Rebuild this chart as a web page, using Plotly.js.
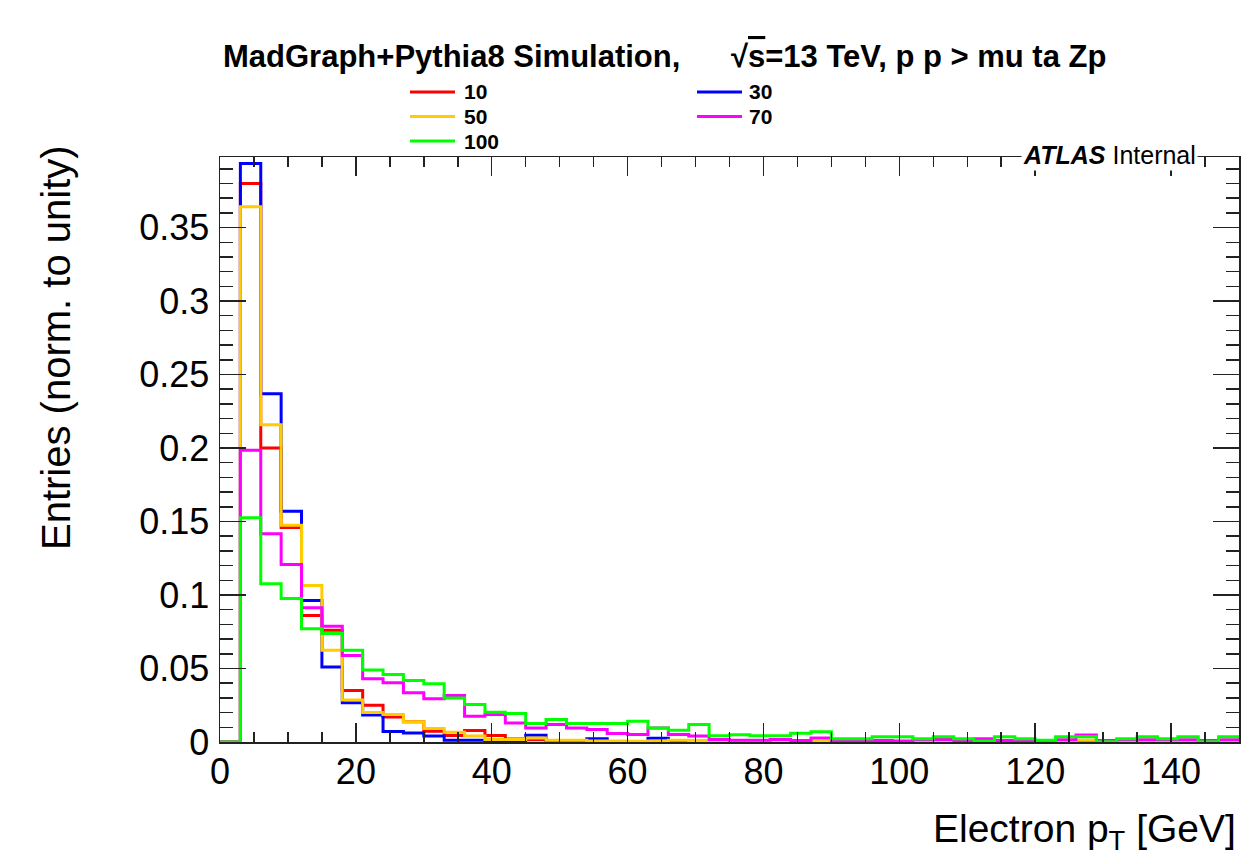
<!DOCTYPE html>
<html><head><meta charset="utf-8">
<script src="https://cdn.plot.ly/plotly-3.0.1.min.js"></script>
<style>html,body{margin:0;padding:0;background:#fff;} #chart{width:1252px;height:864px;}</style>
</head><body><div id="chart"></div>
<script>
// Histogram binning (GeV)
const binLow = 0;
const binWidth = 3;
const nBins = 50;

// Series names and colours
const seriesNames = ['10', '30', '50', '70', '100'];
const seriesColors = ['#ff0000', '#0000ff', '#ffcc00', '#ff00ff', '#00ff00'];

// Normalised bin contents (one value per bin)
const h10 = [0, 0.380, 0.200, 0.146, 0.086, 0.076, 0.035, 0.025, 0.017, 0.0137,
  0.0073, 0.0044, 0.0078, 0.0044, 0.0020, 0.0015, 0.0008, 0.0006, 0.0005, 0.0004,
  0.0004, 0.0003, 0.0003, 0.0003, 0.0003, 0.0002, 0.0003, 0.0002, 0.0002, 0.0002,
  0.0002, 0.0002, 0.0002, 0.0002, 0.0002, 0.0002, 0.0002, 0.0002, 0.0002, 0.0002,
  0.0002, 0.0002, 0.0002, 0.0002, 0.0002, 0.0002, 0.0002, 0.0002, 0.0002, 0.0002];
const h30 = [0, 0.3935, 0.237, 0.157, 0.0963, 0.051, 0.0267, 0.0183, 0.0072, 0.0062,
  0.0040, 0.0012, 0.0012, 0.0006, 0.0006, 0.0046, 0.0005, 0.0004, 0.0022, 0.0004,
  0.0003, 0.0025, 0.0004, 0.0003, 0.0004, 0.0003, 0.0004, 0.0003, 0.0003, 0.0003,
  0.0005, 0.0003, 0.0003, 0.0004, 0.0003, 0.0005, 0.0005, 0.0003, 0.0003, 0.0003,
  0.0003, 0.0003, 0.0003, 0.0003, 0.0003, 0.0003, 0.0003, 0.0003, 0.0003, 0.0003];
const h50 = [0, 0.3641, 0.2158, 0.1475, 0.1065, 0.0625, 0.0285, 0.020, 0.0187, 0.0137,
  0.0092, 0.0067, 0.0040, 0.0017, 0.0017, 0.0028, 0.0012, 0.0012, 0.0006, 0.0006,
  0.0005, 0.0006, 0.0012, 0.0010, 0.0008, 0.0010, 0.0006, 0.0005, 0.0005, 0.0005,
  0.0004, 0.0004, 0.0005, 0.0004, 0.0004, 0.0004, 0.0003, 0.0004, 0.0004, 0.0004,
  0.0004, 0.0004, 0.0012, 0.0004, 0.0003, 0.0003, 0.0003, 0.0003, 0.0003, 0.0003];
const h70 = [0, 0.1985, 0.1416, 0.1207, 0.0913, 0.0788, 0.0588, 0.043, 0.0403, 0.0335,
  0.0294, 0.0316, 0.0176, 0.0187, 0.013, 0.0096, 0.0119, 0.0096, 0.0085, 0.0058,
  0.0051, 0.0096, 0.0051, 0.0040, 0.0017, 0.0012, 0.0012, 0.0017, 0.0010, 0.0028,
  0.0010, 0.0006, 0.0010, 0.0006, 0.0015, 0.0017, 0.0010, 0.0022, 0.0010, 0.0008,
  0.0008, 0.0015, 0.0048, 0.0010, 0.0015, 0.0015, 0.0015, 0.0015, 0.0010, 0.0015];
const h100 = [0, 0.1525, 0.1076, 0.0976, 0.077, 0.0738, 0.0625, 0.0489, 0.0459, 0.0418,
  0.0396, 0.030, 0.0255, 0.0203, 0.0194, 0.0126, 0.0153, 0.0126, 0.0126, 0.0126,
  0.0142, 0.0096, 0.0080, 0.0119, 0.0042, 0.0050, 0.0042, 0.0042, 0.0060, 0.0070,
  0.0022, 0.0022, 0.0035, 0.0035, 0.0022, 0.0035, 0.0022, 0.0005, 0.0035, 0.0022,
  0.0012, 0.0035, 0.0035, 0.0002, 0.0022, 0.0035, 0.0022, 0.0035, 0.0002, 0.0035];

// Text
const headerLeft = '<b>MadGraph+Pythia8 Simulation,</b>';
const headerRight = '<b>\u221A<span style="text-decoration:overline">s</span>=13 TeV, p p &gt; mu ta Zp</b>';
const xTitle = 'Electron p<sub>T</sub> [GeV]';
const yTitle = 'Entries (norm. to unity)';
const xTickVals = [0, 20, 40, 60, 80, 100, 120, 140];
const yTickVals = [0, 0.05, 0.1, 0.15, 0.2, 0.25, 0.3, 0.35];

const seriesData = [h10, h30, h50, h70, h100];

// Bin edges from binning definition
const edges = [];
for (let i = 0; i <= nBins; i++) edges.push(binLow + i * binWidth);

const FONT = 'Liberation Sans, Arial, Helvetica, sans-serif';

const traces = seriesData.map((vals, s) => ({
  type: 'scatter',
  mode: 'lines',
  name: seriesNames[s],
  x: edges,
  y: vals.concat([vals[vals.length - 1]]),
  line: {shape: 'hv', color: seriesColors[s], width: 3},
  showlegend: false,
  hoverinfo: 'x+y+name'
}));

// plot geometry in pixels (for placing header/legend text)
const W = 1252, H = 864;
const M = {l: 220, r: 13, t: 157, b: 122};
const pw = W - M.l - M.r, ph = H - M.t - M.b;
const px = v => (v - M.l) / pw;
const py = v => (H - M.b - v) / ph;

// legend layout: two columns, rows filled left to right
const legendCols = [[410, 455, 463], [697, 742, 748]];
const legendRows = [92, 116.5, 141];

const annotations = [];
const shapes = [];
seriesNames.forEach((nm, i) => {
  const col = legendCols[i % 2];
  const row = legendRows[Math.floor(i / 2)];
  shapes.push({type: 'line', xref: 'paper', yref: 'paper',
    x0: px(col[0]), x1: px(col[1]), y0: py(row), y1: py(row),
    line: {color: seriesColors[i], width: 3}});
  annotations.push({xref: 'paper', yref: 'paper', x: px(col[2]), y: py(row),
    xanchor: 'left', yanchor: 'middle', showarrow: false, borderpad: 0,
    text: '<b>' + nm + '</b>', font: {family: FONT, size: 21, color: '#000'}});
});

annotations.push({xref: 'paper', yref: 'paper', x: px(221), y: py(57),
  xanchor: 'left', yanchor: 'middle', showarrow: false, text: headerLeft,
  font: {family: FONT, size: 31, color: '#000'}});
annotations.push({xref: 'paper', yref: 'paper', x: px(729), y: py(57),
  xanchor: 'left', yanchor: 'middle', showarrow: false, text: headerRight,
  font: {family: FONT, size: 31, color: '#000'}});
annotations.push({xref: 'paper', yref: 'paper', x: px(1198), y: py(155),
  xanchor: 'right', yanchor: 'middle', showarrow: false,
  text: '<b><i>ATLAS</i></b> Internal', bgcolor: '#ffffff', borderpad: 1,
  font: {family: FONT, size: 25, color: '#000'}});
annotations.push({xref: 'paper', yref: 'paper', x: px(1238), y: py(831),
  xanchor: 'right', yanchor: 'middle', showarrow: false, text: xTitle,
  font: {family: FONT, size: 39, color: '#000'}});
annotations.push({xref: 'paper', yref: 'paper', x: px(56), y: py(348),
  xanchor: 'center', yanchor: 'middle', showarrow: false, text: yTitle, textangle: -90,
  font: {family: FONT, size: 40, color: '#000'}});

const axisCommon = {
  ticks: 'inside', tickwidth: 1.5, tickcolor: '#222',
  showline: true, linecolor: '#222', linewidth: 1.5, mirror: 'allticks',
  showgrid: false, zeroline: false,
  tickfont: {family: FONT, size: 36, color: '#000'}
};

const layout = {
  width: W, height: H,
  margin: M,
  paper_bgcolor: '#fff', plot_bgcolor: '#fff',
  showlegend: false,
  xaxis: Object.assign({}, axisCommon, {
    range: [0, 150], tickvals: xTickVals, ticklen: 19, ticklabelstandoff: -3,
    minor: {dtick: 5, tick0: 0, ticks: 'inside', ticklen: 10, tickwidth: 1.5, tickcolor: '#222', showgrid: false}
  }),
  yaxis: Object.assign({}, axisCommon, {
    range: [0, 0.398], tickvals: yTickVals, ticklen: 26, ticklabelstandoff: 2,
    minor: {dtick: 0.01, tick0: 0, ticks: 'inside', ticklen: 13, tickwidth: 1.5, tickcolor: '#222', showgrid: false}
  }),
  annotations: annotations,
  shapes: shapes
};

Plotly.newPlot('chart', traces, layout, {displayModeBar: false, staticPlot: true});
</script>
</body></html>
